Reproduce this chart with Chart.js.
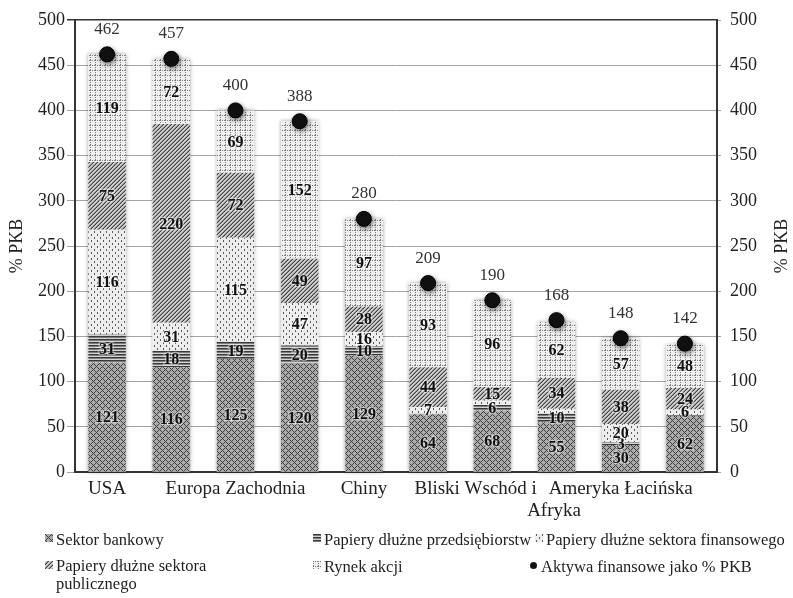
<!DOCTYPE html>
<html lang="pl">
<head>
<meta charset="utf-8">
<title>Aktywa finansowe jako % PKB</title>
<script src="https://cdn.jsdelivr.net/npm/chart.js@4/dist/chart.umd.min.js"></script>
<style>
  html, body { margin: 0; padding: 0; background: #fff; }
  #wrap { position: relative; width: 793px; height: 598px; font-family: "Liberation Serif", "Times New Roman", serif; }
  #chart-box { position: absolute; left: 0; top: 0; width: 793px; height: 598px; }
  #legend { position: absolute; left: 0; top: 0; width: 793px; height: 598px; pointer-events: none; }
  .item { position: absolute; font-size: 16.5px; line-height: 15px; color: #222; }
  .item canvas { position: absolute; left: 0; }
  .item span { display: block; margin-left: 11px; white-space: nowrap; }
  .item.wrap { line-height: 18px; }
  .item.wrap span { white-space: normal; width: 175px; }
</style>
</head>
<body>
<div id="wrap">
  <div id="chart-box"><canvas id="c"></canvas></div>
  <div id="legend"></div>
</div>
<script>
// Regions (only every other one carries a visible name)
const categories = ["USA", "", "Europa Zachodnia", "", "Chiny", "", "Bliski Wschód i Afryka", "", "Ameryka Łacińska", ""];

// Components of financial assets, % of GDP
const bankSector     = [121, 116, 125, 120, 129, 64, 68, 55, 30, 62];
const corporateBonds = [31, 18, 19, 20, 10, 1, 6, 10, 3, 1];
const financialBonds = [116, 31, 115, 47, 16, 7, 5, 5, 20, 6];
const publicBonds    = [75, 220, 72, 49, 28, 44, 15, 34, 38, 24];
const equityMarket   = [119, 72, 69, 152, 97, 93, 96, 62, 57, 48];
const totalAssets    = [462, 457, 400, 388, 280, 209, 190, 168, 148, 142];

const seriesNames = [
  "Sektor bankowy",
  "Papiery dłużne przedsiębiorstw",
  "Papiery dłużne sektora finansowego",
  "Papiery dłużne sektora publicznego",
  "Rynek akcji",
  "Aktywa finansowe jako % PKB"
];
const axisTitle = "% PKB";
const yMin = 0, yMax = 500, yStep = 50;

// segments too thin to carry a value label: [series, category]
const unlabeled = [[1, 5], [1, 9], [2, 6], [2, 7]];

const FONT = '"Liberation Serif", "Times New Roman", serif';
Chart.defaults.font.family = FONT;
Chart.defaults.color = '#222';

// ---- fill patterns ----
function tile(w, h, bg, draw) {
  const c = document.createElement('canvas');
  c.width = w; c.height = h;
  const x = c.getContext('2d');
  x.fillStyle = bg; x.fillRect(0, 0, w, h);
  draw(x);
  return c;
}
const tiles = [
  // woven grey
  tile(6, 6, '#ababab', x => {
    x.fillStyle = '#3f3f3f';
    for (let i = 0; i < 6; i++) for (let j = 0; j < 6; j++)
      if ((i + j) % 6 === 0 || (i - j + 6) % 6 === 0) x.fillRect(i, j, 1, 1);
  }),
  // horizontal stripes
  tile(4, 3, '#d2d2d2', x => {
    x.fillStyle = '#3a3a3a'; x.fillRect(0, 0, 4, 1);
    x.fillStyle = '#7c7c7c'; x.fillRect(0, 1, 4, 1);
  }),
  // small vertical dashes
  tile(6, 6, '#ededed', x => {
    x.fillStyle = '#5a5a5a';
    x.fillRect(1, 0, 1, 2); x.fillRect(4, 3, 1, 2);
  }),
  // dense diagonal hatch
  tile(4, 4, '#cdcdcd', x => {
    for (let i = 0; i < 4; i++) for (let j = 0; j < 4; j++) {
      const k = (i + j) % 4;
      if (k === 3) { x.fillStyle = '#404040'; x.fillRect(i, j, 1, 1); }
      else if (k === 2) { x.fillStyle = '#939393'; x.fillRect(i, j, 1, 1); }
    }
  }),
  // dotted grid
  tile(5, 5, '#efefef', x => {
    x.fillStyle = '#7e7e7e';
    for (let i = 0; i < 5; i += 2) { x.fillRect(i, 0, 1, 1); x.fillRect(0, i, 1, 1); }
  })
];

const canvas = document.getElementById('c');
const ctx = canvas.getContext('2d');
const patterns = tiles.map(t => ctx.createPattern(t, 'repeat'));

const seriesData = [bankSector, corporateBonds, financialBonds, publicBonds, equityMarket];

// two-line label under the 7th bar, each line nudged sideways (px)
const NBSP = '\u00A0';
function nudged(text, px, fontSize) {
  const n = Math.round(Math.abs(px) * 2 / (0.25 * fontSize));
  return px < 0 ? text + NBSP.repeat(n) : NBSP.repeat(n) + text;
}
const X_FONT = 19;
function xLabel(index) {
  const lbl = categories[index];
  if (lbl === 'Bliski Wschód i Afryka') {
    return [nudged('Bliski Wschód i', -17, X_FONT), nudged('Afryka', 62, X_FONT)];
  }
  return lbl;
}

// ---- plugins ----
const barHalo = {
  id: 'barHalo',
  beforeDatasetsDraw(chart) {
    const c = chart.ctx;
    const metas = chart.getSortedVisibleDatasetMetas().filter(m => m.type === 'bar');
    c.save();
    c.shadowColor = 'rgba(0,0,0,0.35)';
    c.shadowBlur = 4;
    c.fillStyle = '#fff';
    for (let i = 0; i < chart.data.labels.length; i++) {
      let top = Infinity, bottom = -Infinity, left = 0, w = 0;
      metas.forEach(m => {
        const e = m.data[i];
        top = Math.min(top, e.y, e.base);
        bottom = Math.max(bottom, e.y, e.base);
        left = e.x - e.width / 2; w = e.width;
      });
      c.fillRect(left, top, w, bottom - top);
    }
    c.restore();
  }
};

const pointShadow = {
  id: 'pointShadow',
  beforeDatasetDraw(chart, args) {
    if (args.meta.type !== 'line') return;
    const c = chart.ctx;
    c.save();
    c.shadowColor = 'rgba(0,0,0,0.5)';
    c.shadowBlur = 5;
    c.shadowOffsetX = 1;
    c.shadowOffsetY = 2;
  },
  afterDatasetDraw(chart, args) {
    if (args.meta.type !== 'line') return;
    chart.ctx.restore();
  }
};

const valueLabels = {
  id: 'valueLabels',
  afterDatasetsDraw(chart) {
    const c = chart.ctx;
    c.save();
    c.textAlign = 'center';
    c.textBaseline = 'middle';
    chart.data.datasets.forEach((ds, d) => {
      const meta = chart.getDatasetMeta(d);
      if (meta.type === 'bar') {
        c.font = 'bold 16px ' + FONT;
        meta.data.forEach((e, i) => {
          if (unlabeled.some(([s, k]) => s === d && k === i)) return;
          const y = (e.y + e.base) / 2 + 1;
          const txt = String(ds.data[i]);
          c.lineWidth = 2.5;
          c.strokeStyle = 'rgba(255,255,255,0.45)';
          c.strokeText(txt, e.x, y);
          c.fillStyle = '#111';
          c.fillText(txt, e.x, y);
        });
      } else {
        c.font = '17px ' + FONT;
        c.fillStyle = '#333';
        meta.data.forEach((p, i) => c.fillText(String(ds.data[i]), p.x, p.y - 25));
      }
    });
    c.restore();
  }
};

const rightTitle = {
  id: 'rightTitle',
  afterDraw(chart) {
    const c = chart.ctx, a = chart.chartArea;
    c.save();
    c.translate(782, (a.top + a.bottom) / 2);
    c.rotate(-Math.PI / 2);
    c.font = '18px ' + FONT;
    c.fillStyle = '#222';
    c.textAlign = 'center';
    c.textBaseline = 'middle';
    c.fillText(axisTitle, 0, 0);
    c.restore();
  }
};

const datasets = seriesData.map((data, i) => ({
  type: 'bar',
  label: seriesNames[i],
  data,
  backgroundColor: patterns[i],
  borderWidth: 0,
  stack: 'regions',
  order: 1
}));
datasets.push({
  type: 'line',
  label: seriesNames[5],
  data: totalAssets,
  showLine: false,
  pointRadius: 7.5,
  pointHoverRadius: 7.5,
  pointBackgroundColor: '#111',
  pointBorderColor: '#000',
  pointBorderWidth: 1,
  clip: false,
  order: 0
});

const tickFont = { size: 18, family: FONT };

const chart = new Chart(canvas, {
  type: 'bar',
  data: { labels: categories, datasets },
  options: {
    responsive: true,
    maintainAspectRatio: false,
    animation: false,
    layout: { padding: { top: 20, left: 0, right: 0, bottom: 0 } },
    datasets: { bar: { barPercentage: 0.585, categoryPercentage: 1 } },
    plugins: { legend: { display: false }, tooltip: { enabled: false } },
    scales: {
      x: {
        stacked: true,
        grid: { display: false, drawTicks: false },
        border: { display: true, color: '#333', width: 2 },
        ticks: {
          autoSkip: false, maxRotation: 0, minRotation: 0, padding: 6, color: '#222',
          font: { size: X_FONT, family: FONT, lineHeight: 1.17 },
          callback: (v, i) => xLabel(i)
        },
        afterFit(s) { s.height = 126; }
      },
      y: {
        stacked: true,
        position: 'left',
        min: yMin, max: yMax,
        ticks: { stepSize: yStep, padding: 2, color: '#222', font: tickFont },
        grid: {
          tickLength: 8,
          color: c => (c.tick && c.tick.value === yMax) ? '#333' : '#a3a3a3',
          lineWidth: c => (c.tick && c.tick.value === yMax) ? 1.5 : 1
        },
        border: { color: '#333', width: 2 },
        title: { display: true, text: axisTitle, color: '#222', font: { size: 18, family: FONT }, padding: { top: 6, bottom: 0 } },
        afterFit(s) { s.width = 75; }
      },
      y2: {
        position: 'right',
        min: yMin, max: yMax,
        ticks: { stepSize: yStep, padding: 9, color: '#222', font: tickFont },
        grid: { drawOnChartArea: false, tickLength: 4, color: '#a3a3a3' },
        border: { color: '#333', width: 2 },
        afterFit(s) { s.width = 76; }
      }
    }
  },
  plugins: [barHalo, pointShadow, valueLabels, rightTitle]
});

// ---- legend (three columns, two rows) ----
const legendSlots = [
  { left: 45, top: 532 }, { left: 313, top: 532 }, { left: 535, top: 532 },
  { left: 45, top: 557 }, { left: 313, top: 559 }, { left: 530, top: 559 }
];
const legend = document.getElementById('legend');
chart.data.datasets.forEach((ds, i) => {
  const slot = legendSlots[i];
  const item = document.createElement('div');
  item.className = 'item' + (i === 3 ? ' wrap' : '');
  item.style.left = slot.left + 'px';
  item.style.top = slot.top + 'px';
  const sw = document.createElement('canvas');
  const size = i === 5 ? 7 : 8;
  sw.width = size; sw.height = size;
  sw.style.top = (i === 5 ? 3 : i === 3 ? 4 : 2) + 'px';
  const sx = sw.getContext('2d');
  if (ds.type === 'line') {
    sx.fillStyle = '#111';
    sx.beginPath(); sx.arc(size / 2, size / 2, size / 2, 0, Math.PI * 2); sx.fill();
  } else {
    sx.fillStyle = sx.createPattern(tiles[i], 'repeat');
    sx.fillRect(0, 0, size, size);
  }
  const tx = document.createElement('span');
  tx.textContent = ds.label;
  item.appendChild(sw);
  item.appendChild(tx);
  legend.appendChild(item);
});
</script>
</body>
</html>
